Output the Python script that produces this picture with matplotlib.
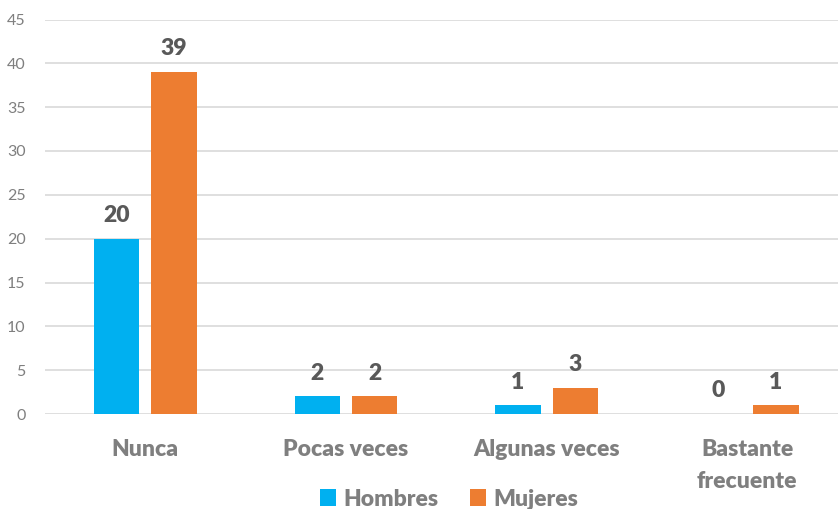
import matplotlib
matplotlib.use("Agg")
import matplotlib.pyplot as plt
import numpy as np

categories = ["Nunca", "Pocas veces", "Algunas veces", "Bastante\nfrecuente"]
series_names = ["Hombres", "Mujeres"]
hombres = [20, 2, 1, 0]
mujeres = [39, 2, 3, 1]
yticks = [0, 5, 10, 15, 20, 25, 30, 35, 40, 45]

colors = ["#00B0F0", "#ED7D31"]
plt.rcParams['font.family'] = ['Lato', 'DejaVu Sans']

fig = plt.figure(figsize=(8.38, 5.09), dpi=100)
ax = fig.add_axes([45/838, (509-414)/509, (847.5-45)/838, (414-19.5)/509])

x = np.arange(len(categories))
w = 0.226
gap = 0.06
off = (w + gap) / 2
b1 = ax.bar(x - off, hombres, w, color=colors[0], label=series_names[0], zorder=3)
b2 = ax.bar(x + off, mujeres, w, color=colors[1], label=series_names[1], zorder=3)

for bars, vals in [(b1, hombres), (b2, mujeres)]:
    for rect, v in zip(bars, vals):
        ax.annotate(str(v), (rect.get_x() + rect.get_width()/2, rect.get_height()),
                    xytext=(0, 12), textcoords="offset points", ha="center", va="baseline",
                    fontsize=16.5, fontweight="heavy", color="#595959")

ax.set_xlim(-0.5, len(categories) - 0.5)
ax.set_ylim(0, 45)
ax.set_yticks(yticks)
ax.set_xticks(x)
ax.set_xticklabels(categories, fontsize=16.5, fontweight="heavy", color="#7F7F7F", linespacing=1.65)
ax.tick_params(axis="y", length=0, pad=14, labelsize=11.5, labelcolor="#7F7F7F")
ax.tick_params(axis="x", length=0, pad=18)
ax.grid(axis="y", color="#D9D9D9", linewidth=1.2, zorder=0)
for s in ax.spines.values():
    s.set_visible(False)

leg = fig.legend(loc="center", bbox_to_anchor=(449/838, (509-499)/509), ncol=2, frameon=False,
                 prop={"size": 16.5, "weight": "heavy"}, handlelength=0.7, handleheight=0.7,
                 handletextpad=0.3, columnspacing=1.4, labelcolor="#7F7F7F")

fig.savefig("out.png", dpi=100)
